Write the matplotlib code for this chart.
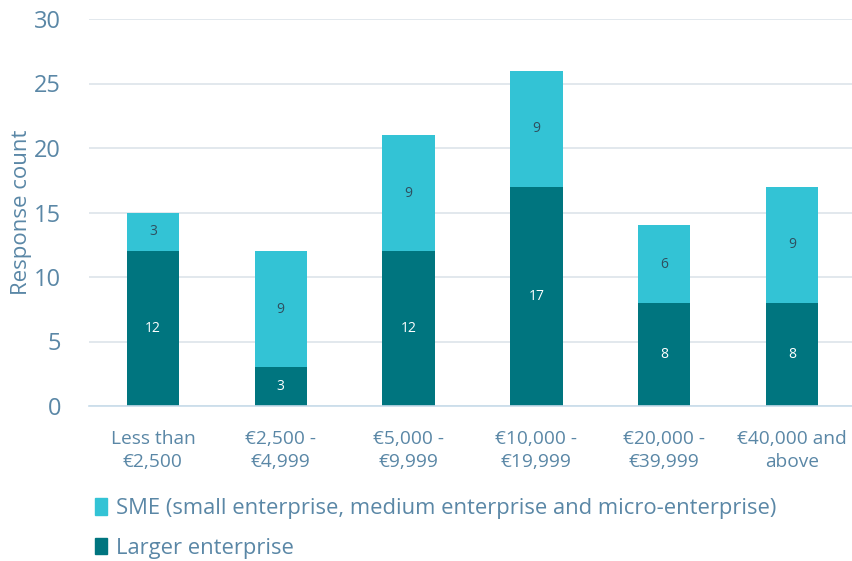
import matplotlib
matplotlib.use("Agg")
import matplotlib.pyplot as plt
from matplotlib.patches import Patch
import numpy as np

categories = ["Less than\n€2,500", "€2,500 -\n€4,999", "€5,000 -\n€9,999",
              "€10,000 -\n€19,999", "€20,000 -\n€39,999", "€40,000 and\nabove"]
larger = [12, 3, 12, 17, 8, 8]
sme = [3, 9, 9, 9, 6, 9]
yticks = [0, 5, 10, 15, 20, 25, 30]

DARK = "#00757f"
LIGHT = "#33c3d5"
TEXT = "#5a87a6"
GRID = "#dde4ea"

plt.rcParams["font.family"] = ["Open Sans", "DejaVu Sans"]

fig = plt.figure(figsize=(8.53, 5.61), dpi=100)
ax = fig.add_axes([89 / 853, 1 - 406 / 561, 767 / 853, 387 / 561])

x = np.arange(len(categories))
w = 0.41
ax.bar(x, larger, w, color=DARK, zorder=3)
ax.bar(x, sme, w, bottom=larger, color=LIGHT, zorder=3)

for xi, lv, sv in zip(x, larger, sme):
    ax.text(xi, lv / 2, str(lv), ha="center", va="center", color="white",
            fontsize=10, zorder=4)
    ax.text(xi, lv + sv / 2, str(sv), ha="center", va="center", color="#2f4f5f",
            fontsize=10, zorder=4)

ax.set_xlim(-0.5, len(categories) - 0.5)
ax.set_ylim(0, 30)
ax.set_yticks(yticks)
ax.yaxis.grid(True, color=GRID, linewidth=1.2, zorder=0)
ax.set_axisbelow(True)
for s in ["top", "right", "left"]:
    ax.spines[s].set_visible(False)
ax.spines["bottom"].set_color("#c8dcea")
ax.spines["bottom"].set_linewidth(1.2)
ax.spines["bottom"].set_zorder(5)
ax.tick_params(axis="both", length=0, colors=TEXT)
ax.tick_params(axis="y", labelsize=17, pad=20)
ax.tick_params(axis="x", labelsize=13.8, pad=17)
ax.set_xticks(x)
ax.set_xticklabels(categories, linespacing=1.4)
ax.set_ylabel("Response count", color=TEXT, fontsize=16, va="center")
ax.yaxis.set_label_coords(22 / 853, 1 - 212 / 561, transform=fig.transFigure)

handles = [Patch(color=LIGHT), Patch(color=DARK)]
labels = ["SME (small enterprise, medium enterprise and micro-enterprise)",
          "Larger enterprise"]
leg = fig.legend(handles, labels, loc="upper left",
                 frameon=False, fontsize=15.8, labelcolor=TEXT, handlelength=0.55,
                 handleheight=0.8, handletextpad=0.4, labelspacing=0.85,
                 borderaxespad=0, borderpad=0)
leg.set_bbox_to_anchor((95 / 853, 1 - 498 / 561), transform=fig.transFigure)

fig.savefig("out.png", dpi=100)
